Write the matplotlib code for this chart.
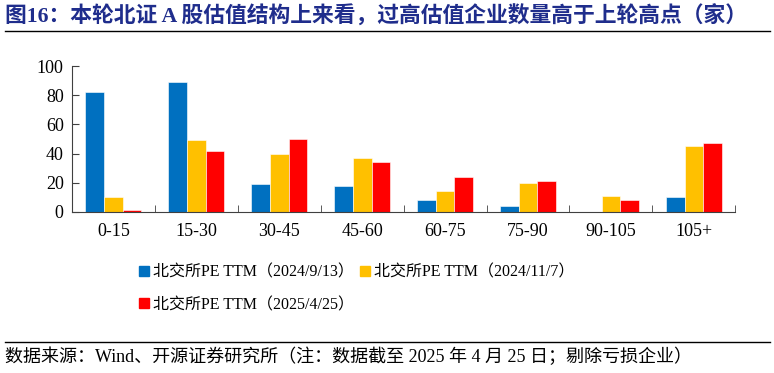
import matplotlib.pyplot as plt
import numpy as np
from matplotlib.lines import Line2D

plt.rcParams['font.family'] = ['Liberation Serif', 'Noto Sans CJK SC']

categories = ['0-15', '15-30', '30-45', '45-60', '60-75', '75-90', '90-105', '105+']
s1 = [82, 89, 19, 18, 8, 4, 0, 10]
s2 = [10, 49, 40, 37, 14, 20, 11, 45]
s3 = [1, 42, 50, 34, 24, 21, 8, 47]
names = ['北交所PE TTM（2024/9/13）', '北交所PE TTM（2024/11/7）', '北交所PE TTM（2025/4/25）']
colors = ['#0070C0', '#FFC000', '#FF0000']

fig = plt.figure(figsize=(7.74, 3.73), dpi=100)
ax = fig.add_axes([0.093, 0.432, 0.857, 0.391])

x = np.arange(len(categories))
w = 0.225
for i, (vals, c) in enumerate(zip([s1, s2, s3], colors)):
    ax.bar(x + (i - 1) * w, vals, w, color=c, edgecolor='white', linewidth=0.4)

ax.set_xlim(-0.5, len(categories) - 0.5)
ax.set_ylim(0, 100)
ax.set_yticks([0, 20, 40, 60, 80, 100])
ax.set_xticks(x)
ax.set_xticklabels(categories)
ax.set_xticks(np.arange(-0.5, len(categories), 1), minor=True)
ax.tick_params(axis='x', which='major', length=0, labelsize=13, pad=8)
ax.tick_params(axis='x', which='minor', direction='in', length=5, color='#404040')
ax.tick_params(axis='y', direction='in', length=5, labelsize=13, color='#404040', pad=6)
for s in ['top', 'right']:
    ax.spines[s].set_visible(False)
for s in ['left', 'bottom']:
    ax.spines[s].set_color('#404040')

handles = [Line2D([], [], marker='s', color=c, linestyle='none', markersize=7) for c in colors]
order = [0, 2, 1]
fig.legend([handles[i] for i in order], [names[i] for i in order], loc='upper left',
           bbox_to_anchor=(0.158, 0.33), ncol=2, frameon=False, fontsize=11.5,
           handletextpad=0.15, columnspacing=0.2, labelspacing=1.05, handlelength=0.9)

fig.text(0.007, 0.955, '图16：本轮北证 A 股估值结构上来看，过高估值企业数量高于上轮高点（家）',
         fontsize=15.7, fontweight='bold', color='#1F2D8C', va='center')
fig.add_artist(Line2D([0.007, 0.995], [0.918, 0.918], color='black', linewidth=1))
fig.add_artist(Line2D([0.007, 0.995], [0.083, 0.083], color='black', linewidth=1))
fig.text(0.007, 0.043, '数据来源：Wind、开源证券研究所（注：数据截至 2025 年 4 月 25 日；剔除亏损企业）',
         fontsize=13, va='center')

fig.savefig('out.png', dpi=100)
